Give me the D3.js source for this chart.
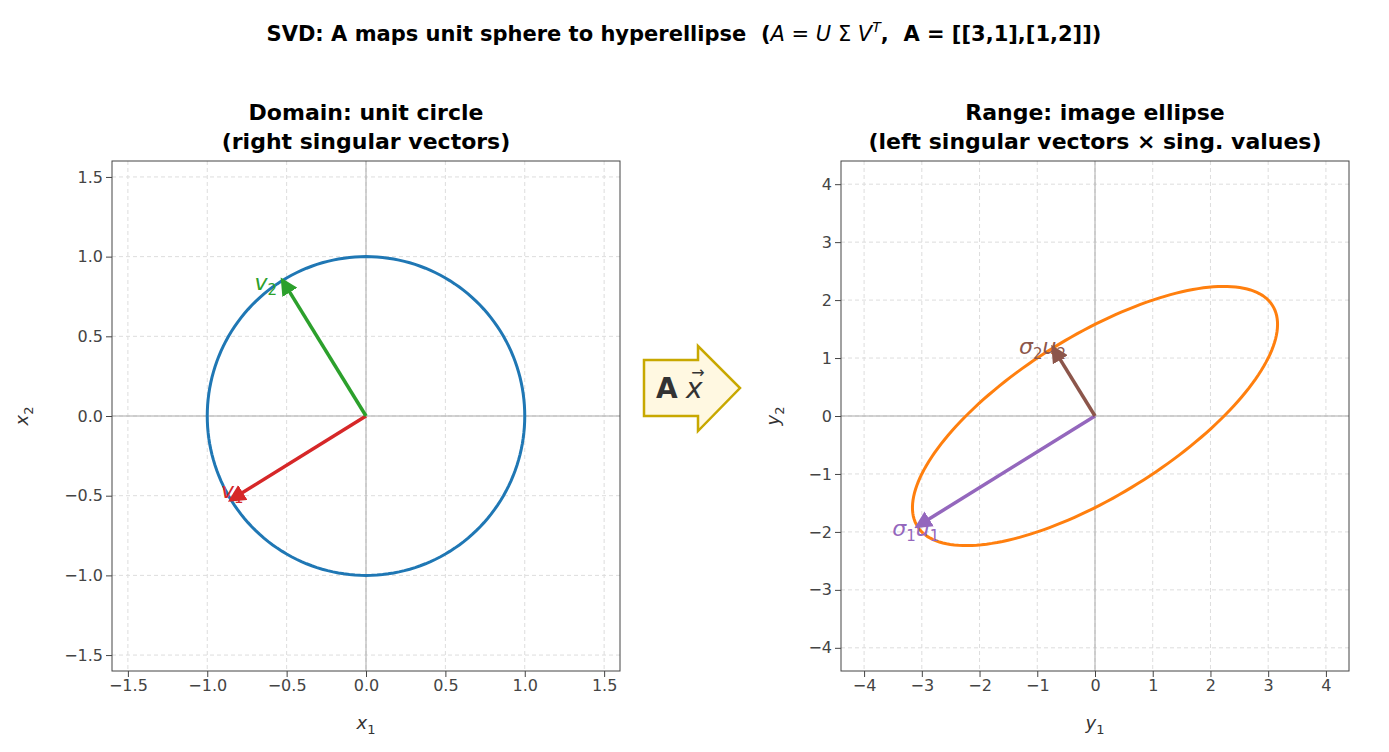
<!DOCTYPE html>
<html><head><meta charset="utf-8">
<script src="https://cdn.jsdelivr.net/npm/d3@7"></script>
<style>body{margin:0;background:#fff}svg{font-family:"DejaVu Sans",sans-serif}</style>
</head><body>
<svg width="1389" height="752"></svg>
<script>
// matrix and its SVD pieces
let matA = [[3, 1], [1, 2]];
let sigmas = [3.618, 1.382];
let rightVecs = [[-0.851, -0.526], [-0.526, 0.851]];
let leftVecs = [[-0.851, -0.526], [-0.526, 0.851]];
let leftTicks = [-1.5, -1.0, -0.5, 0.0, 0.5, 1.0, 1.5];
let rightTicks = [-4, -3, -2, -1, 0, 1, 2, 3, 4];

let svg = d3.select("svg");

svg.append("text").attr("x", 684).attr("y", 41).attr("text-anchor", "middle")
  .attr("font-size", 21).attr("font-weight", "bold").attr("xml:space", "preserve")
  .html('SVD: A maps unit sphere to hyperellipse  (<tspan font-style="italic" font-weight="normal">A</tspan><tspan font-weight="normal"> = </tspan><tspan font-style="italic" font-weight="normal">U</tspan><tspan font-weight="normal"> Σ </tspan><tspan font-style="italic" font-weight="normal">V</tspan><tspan font-style="italic" font-weight="normal" font-size="14" dy="-9">T</tspan><tspan dy="9">,  A = [[3,1],[1,2]])</tspan>');

// unit circle points
let angles = d3.range(0, 361, 2).map(d => d * Math.PI / 180);
let circlePts = angles.map(t => [Math.cos(t), Math.sin(t)]);
let ellipsePts = circlePts.map(p => [matA[0][0]*p[0] + matA[0][1]*p[1], matA[1][0]*p[0] + matA[1][1]*p[1]]);

svg.append("defs").selectAll("marker")
  .data(["#d62728", "#2ca02c", "#9467bd", "#8c564b"])
  .join("marker")
    .attr("id", (d, i) => "m" + i)
    .attr("viewBox", "0 0 10 10").attr("refX", 8).attr("refY", 5)
    .attr("markerWidth", 5).attr("markerHeight", 5).attr("markerUnits", "strokeWidth")
    .attr("orient", "auto")
  .append("path").attr("d", "M0,0 L10,5 L0,10 Z").attr("fill", d => d);

function panel(x0, title1, title2, lim, ticks, fmt, xl, yl, yOff) {
  let w = 508, h = 510, top = 161;
  let x = d3.scaleLinear().domain([-lim, lim]).range([x0, x0 + w]);
  let y = d3.scaleLinear().domain([-lim, lim]).range([top + h, top]);
  let g = svg.append("g");
  ticks.forEach(t => {
    g.append("line").attr("x1", x(t)).attr("x2", x(t)).attr("y1", top).attr("y2", top + h)
      .attr("stroke", "#ddd").attr("stroke-dasharray", "4,3");
    g.append("line").attr("y1", y(t)).attr("y2", y(t)).attr("x1", x0).attr("x2", x0 + w)
      .attr("stroke", "#ddd").attr("stroke-dasharray", "4,3");
  });
  g.append("line").attr("x1", x(0)).attr("x2", x(0)).attr("y1", top).attr("y2", top + h).attr("stroke", "#aaa");
  g.append("line").attr("y1", y(0)).attr("y2", y(0)).attr("x1", x0).attr("x2", x0 + w).attr("stroke", "#aaa");
  let ax = g.append("g").attr("transform", "translate(0," + (top + h) + ")")
    .call(d3.axisBottom(x).tickValues(ticks).tickFormat(fmt).tickSizeOuter(0));
  let ay = g.append("g").attr("transform", "translate(" + x0 + ",0)")
    .call(d3.axisLeft(y).tickValues(ticks).tickFormat(fmt).tickSizeOuter(0));
  [ax, ay].forEach(a => {
    a.attr("font-size", 16);
    a.selectAll("text").attr("fill", "#444").attr("font-family", "DejaVu Sans");
    a.selectAll("line").attr("stroke", "#444");
    a.select(".domain").remove();
  });
  g.append("rect").attr("x", x0).attr("y", top).attr("width", w).attr("height", h)
    .attr("fill", "none").attr("stroke", "#444");
  g.append("text").attr("x", x0 + w / 2).attr("y", 120).attr("text-anchor", "middle")
    .attr("font-size", 22).attr("font-weight", "bold").text(title1);
  g.append("text").attr("x", x0 + w / 2).attr("y", 149).attr("text-anchor", "middle")
    .attr("font-size", 22).attr("font-weight", "bold").text(title2);
  g.append("text").attr("x", x0 + w / 2).attr("y", 729).attr("text-anchor", "middle")
    .attr("font-size", 18).attr("fill", "#333")
    .html('<tspan font-style="italic">' + xl + '</tspan><tspan font-size="13" dy="5">1</tspan>');
  g.append("text").attr("transform", "translate(" + (x0 - yOff) + "," + (top + h / 2) + ") rotate(-90)")
    .attr("text-anchor", "middle").attr("font-size", 18).attr("fill", "#333")
    .html('<tspan font-style="italic">' + yl + '</tspan><tspan font-size="13" dy="5">2</tspan>');
  return {x, y, g};
}

let L = panel(112, "Domain: unit circle", "(right singular vectors)", 1.6, leftTicks, d3.format(".1f"), "x", "x", 84);
L.g.append("path").datum(circlePts)
  .attr("d", d3.line().x(d => L.x(d[0])).y(d => L.y(d[1])))
  .attr("fill", "none").attr("stroke", "#1f77b4").attr("stroke-width", 3);

let R = panel(841, "Range: image ellipse", "(left singular vectors × sing. values)", 4.4, rightTicks, d => d < 0 ? "−" + (-d) : d, "y", "y", 62);
R.g.append("path").datum(ellipsePts)
  .attr("d", d3.line().x(d => R.x(d[0])).y(d => R.y(d[1])))
  .attr("fill", "none").attr("stroke", "#ff7f0e").attr("stroke-width", 3);

function arrow(P, v, color, mi, label, off) {
  P.g.append("line").attr("x1", P.x(0)).attr("y1", P.y(0))
    .attr("x2", P.x(v[0])).attr("y2", P.y(v[1]))
    .attr("stroke", color).attr("stroke-width", 3.5).attr("marker-end", "url(#m" + mi + ")");
  P.g.append("text").attr("x", P.x(v[0]) + off[0]).attr("y", P.y(v[1]) + off[1])
    .attr("font-size", 22).attr("fill", color)
    .html(label);
}

arrow(L, rightVecs[0], "#d62728", 0, '<tspan font-style="italic">v</tspan><tspan font-size="15" dy="5">1</tspan>', [-10, -2]);
arrow(L, rightVecs[1], "#2ca02c", 1, '<tspan font-style="italic">v</tspan><tspan font-size="15" dy="5">2</tspan>', [-28, 10]);
let s1u1 = leftVecs[0].map(d => d * sigmas[0]);
let s2u2 = leftVecs[1].map(d => d * sigmas[1]);
arrow(R, s1u1, "#9467bd", 2, '<tspan font-style="italic">σ</tspan><tspan font-size="15" dy="5">1</tspan><tspan font-style="italic" dy="-5">u</tspan><tspan font-size="15" dy="5">1</tspan>', [-25, 10]);
arrow(R, s2u2, "#8c564b", 3, '<tspan font-style="italic">σ</tspan><tspan font-size="15" dy="5">2</tspan><tspan font-style="italic" dy="-5">u</tspan><tspan font-size="15" dy="5">2</tspan>', [-34, 6]);

// big arrow between panels
svg.append("path")
  .attr("d", "M644,360 L698,360 L698,346 L740,388 L698,431 L698,416 L644,416 Z")
  .attr("fill", "#fff8e1").attr("stroke", "#c8a800").attr("stroke-width", 2.5);
svg.append("text").attr("x", 656).attr("y", 398).attr("font-size", 28).attr("fill", "#333")
  .attr("font-weight", "bold").text("A");
svg.append("text").attr("x", 686).attr("y", 398).attr("font-size", 28).attr("fill", "#333")
  .attr("font-style", "italic").text("x");
svg.append("text").attr("x", 698).attr("y", 378).attr("font-size", 16).attr("fill", "#333")
  .attr("text-anchor", "middle").text("→");
</script>
</body></html>
